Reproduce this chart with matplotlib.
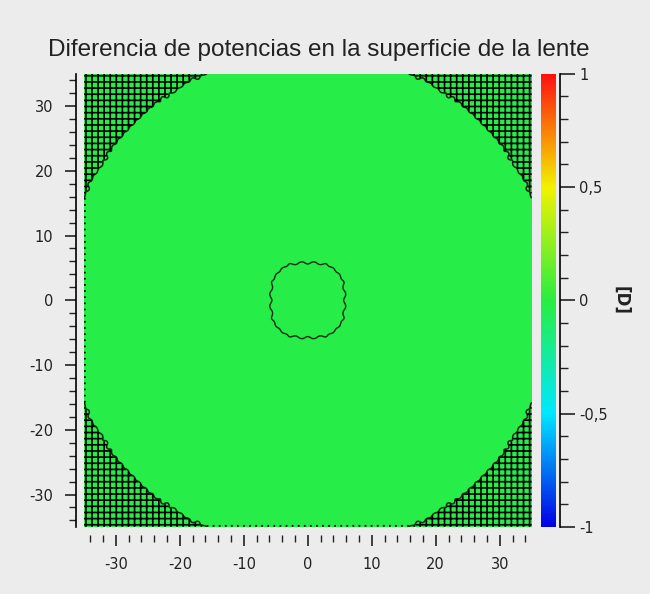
import numpy as np
import matplotlib.pyplot as plt
from matplotlib.colors import LinearSegmentedColormap
from matplotlib.ticker import MultipleLocator

title = "Diferencia de potencias en la superficie de la lente"
cbar_ticks = [-1, -0.5, 0, 0.5, 1]
cbar_ticklabels = ["-1", "-0,5", "0", "0,5", "1"]
cbar_colors = ["#0000e6", "#00e8ff", "#28ee40", "#f2f200", "#ff1010"]
axis_ticks = [-30, -20, -10, 0, 10, 20, 30]
axis_ticklabels = ["-30", "-20", "-10", "0", "10", "20", "30"]

field_value = -0.02     # power difference over the lens [D]
center_ring_r = 5.8     # contour around the centre
aperture_r = 38.5       # lens edge, residue outside
cell = 1.9              # period of the residue pattern
ripple_amp = 0.2
edge_strip = -34.6      # left / bottom border residue

cmap = LinearSegmentedColormap.from_list("pot", cbar_colors)

x = np.arange(-35, 35.001, 0.1)
X, Y = np.meshgrid(x, x)
R = np.hypot(X, Y)
Rsq = (np.abs(X) ** 2.6 + np.abs(Y) ** 2.6) ** (1 / 2.6)
ripple = np.cos(2 * np.pi * X / cell) * np.cos(2 * np.pi * Y / cell)
Z = np.full_like(X, field_value)

fig = plt.figure(figsize=(6.5, 5.94), dpi=100, facecolor="#ececec")
ax = fig.add_axes([0.129, 0.113, 0.689, 0.763])
cax = fig.add_axes([0.832, 0.113, 0.023, 0.763])

im = ax.imshow(Z, extent=[-35, 35, -35, 35], origin="lower", cmap=cmap,
               vmin=-1, vmax=1, aspect="auto", interpolation="nearest")

ax.contour(X, Y, Rsq + ripple_amp * ripple, levels=[center_ring_r],
           colors="#0a2a0a", linewidths=1.0)
ax.contour(X, Y, R + 0.3 * ripple, levels=[aperture_r],
           colors="#0a2a0a", linewidths=1.1)
outer = np.ma.masked_where((R < aperture_r) & (X > edge_strip) & (Y > edge_strip), ripple)
ax.contour(X, Y, outer, levels=[0], colors="#000000", linewidths=1.2)

ax.set_xlim(-35, 35)
ax.set_ylim(-35, 35)
ax.set_xticks(axis_ticks)
ax.set_xticklabels(axis_ticklabels)
ax.set_yticks(axis_ticks)
ax.set_yticklabels(axis_ticklabels)
ax.xaxis.set_minor_locator(MultipleLocator(2))
ax.yaxis.set_minor_locator(MultipleLocator(2))
for s in ["top", "right"]:
    ax.spines[s].set_visible(False)
ax.spines["left"].set_position(("outward", 6))
ax.spines["bottom"].set_position(("outward", 6))
ax.spines["bottom"].set_visible(False)
ax.spines["left"].set_linewidth(1.2)
ax.tick_params(which="major", length=8, width=1.2, labelsize=10.5,
               colors="#222222", pad=8)
ax.tick_params(which="minor", length=5, width=1.0, colors="#222222")
fig.text(0.49, 0.915, title, fontsize=17.5, family="Liberation Sans",
         color="#222222", ha="center", va="center")

cb = fig.colorbar(im, cax=cax, ticks=cbar_ticks)
cb.outline.set_visible(False)
cax.set_yticklabels(cbar_ticklabels)
cax.yaxis.set_minor_locator(MultipleLocator(0.1))
cax.spines["right"].set_visible(True)
cax.spines["right"].set_position(("outward", 3))
cax.spines["right"].set_linewidth(1.2)
cax.tick_params(which="major", length=11, width=1.2, labelsize=10.5,
                colors="#222222", pad=3)
cax.tick_params(which="minor", length=6, width=1.0, colors="#222222")
cb.set_label("[D]", rotation=270, fontsize=12, fontweight="bold",
             labelpad=16, color="#222222")

fig.savefig("out.png", dpi=100, facecolor=fig.get_facecolor())
